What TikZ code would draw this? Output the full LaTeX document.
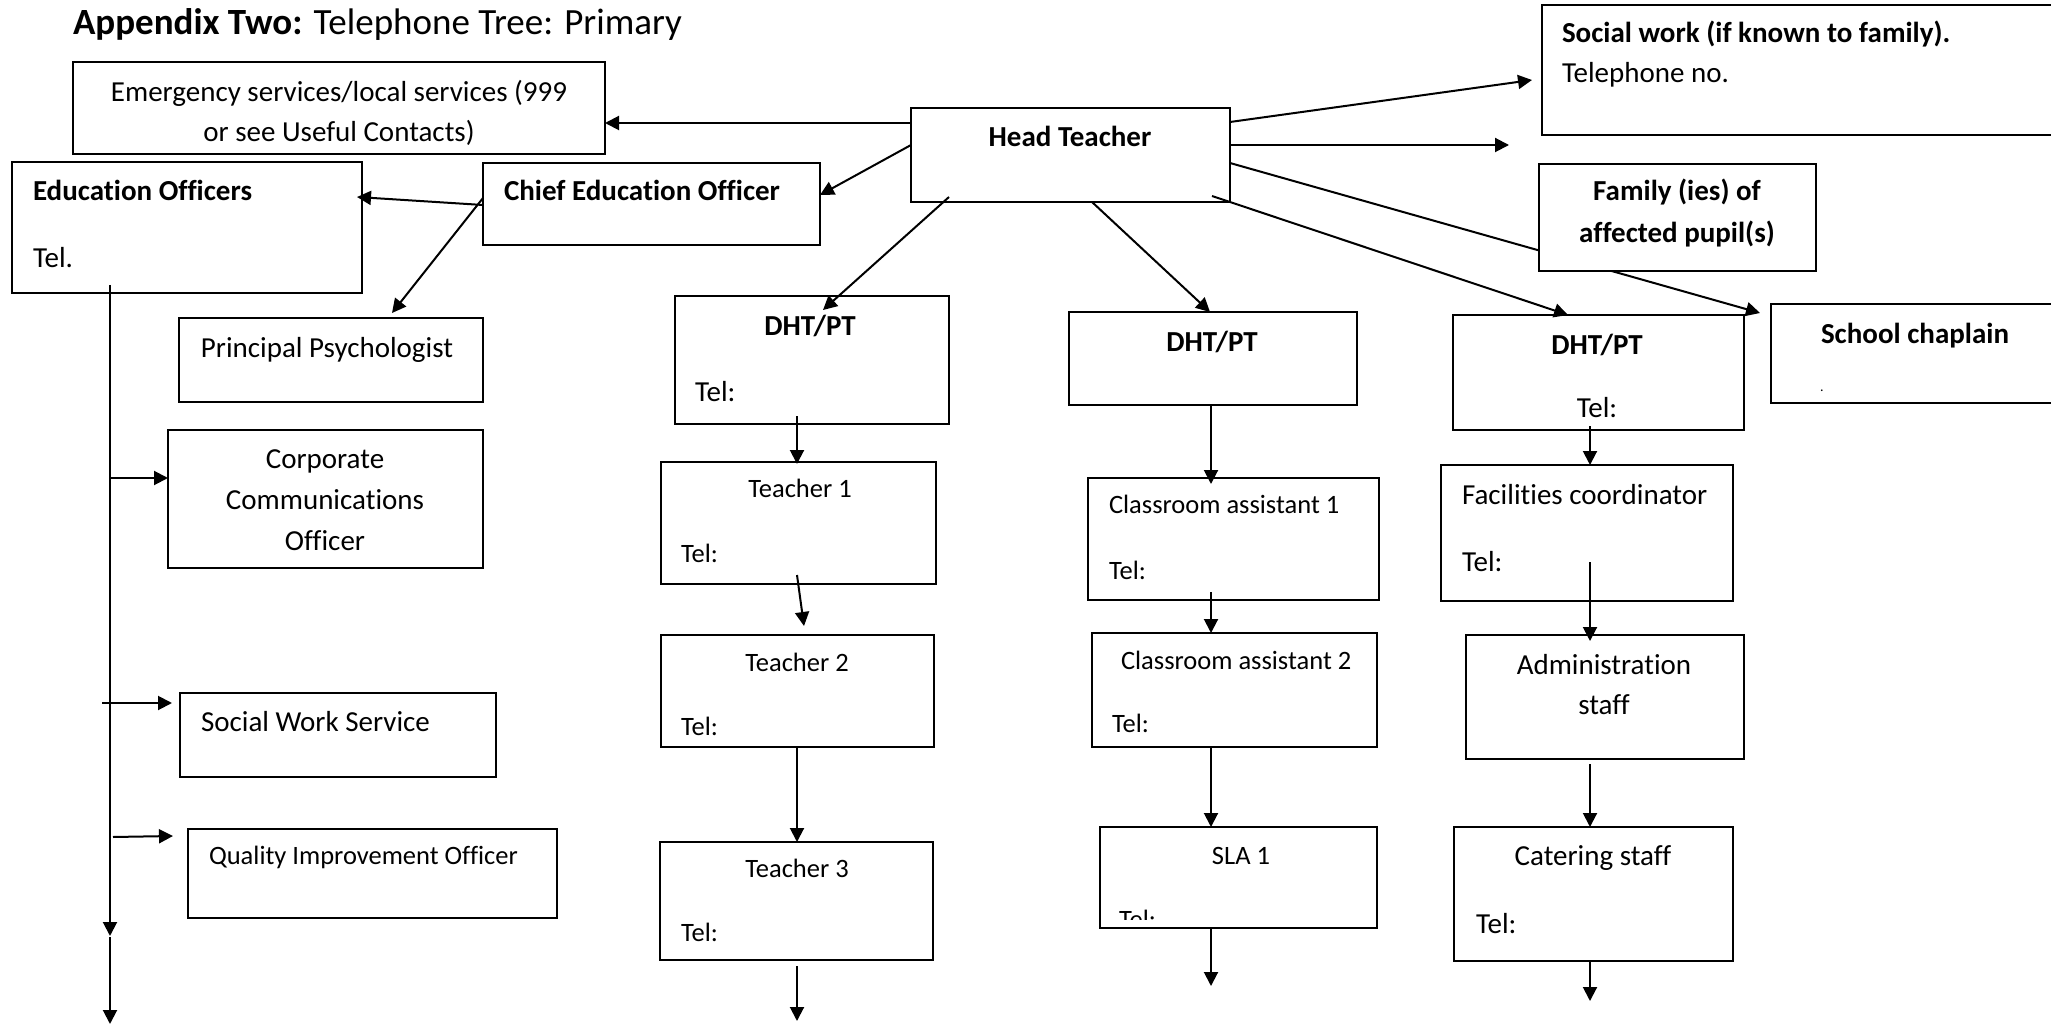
\documentclass[tikz,border=0pt]{standalone}
\usepackage{fontspec}
\setmainfont{Carlito}[Ligatures=NoCommon]
\usetikzlibrary{arrows.meta,calc}
\begin{document}
\begin{tikzpicture}[x=1pt,y=-1pt,
  bx/.style={draw, line width=2.2pt, fill=white, inner sep=0pt, outer sep=0pt, anchor=north west},
  arr/.style={line width=2pt, -{Triangle[length=14pt,width=14pt]}},
  tx/.style={inner sep=0pt, outer sep=0pt, font=\fontsize{29}{35}\selectfont},
  sm/.style={inner sep=0pt, outer sep=0pt, font=\fontsize{26.5}{32}\selectfont},
  bt/.style={tx, font=\fontsize{29}{35}\selectfont\bfseries},
]
\newcommand\mybox[5]{\node[bx, minimum width={#4-#2}, minimum height={#5-#3}] (#1) at (#2,#3) {};}
\fill[white] (0,0) rectangle (2051,1024);
\useasboundingbox (0,0) rectangle (2051,1024);

% title
\node[tx, anchor=base west, font=\fontsize{37}{42}\selectfont] (title) at (73,35) {\textbf{Appendix Two:} Telephone Tree: Primary};

% boxes
\mybox{em}{73}{62}{605}{154}
\mybox{ht}{911}{108}{1230}{202}
\mybox{eo}{12}{162}{362}{293}
\mybox{ceo}{483}{163}{820}{245}
\mybox{pp}{179}{318}{483}{402}
\mybox{d1}{675}{296}{949}{424}
\mybox{sw}{1542}{5}{2070}{135}
\mybox{d2}{1069}{312}{1357}{405}
\mybox{d3}{1453}{315}{1744}{430}
\mybox{sc}{1771}{304}{2070}{403}
\mybox{cco}{168}{430}{483}{568}
\mybox{sws}{180}{693}{496}{777}
\mybox{qio}{188}{829}{557}{918}
\mybox{t1}{661}{462}{936}{584}
\mybox{t2}{661}{635}{934}{747}
\mybox{t3}{660}{842}{933}{960}
\mybox{ca1}{1088}{478}{1379}{600}
\mybox{ca2}{1092}{633}{1377}{747}
\mybox{sla}{1100}{827}{1377}{928}
\mybox{fc}{1441}{465}{1733}{601}
\mybox{adm}{1466}{635}{1744}{759}
\mybox{cat}{1454}{827}{1733}{961}

% connectors from Head Teacher
\draw[arr] (ht.west |- 0,123) -- (em.east |- 0,123);
\draw[arr] (ht.west |- 0,145) -- (ceo.east |- 0,195);
\draw[arr] ($(ht.south west)+(38,-5)$) -- ($(d1.north west)+(148,14)$);
\draw[arr] (ht.south -| 1092,0) -- (d2.north -| 1210,0);
\draw[arr] ($(ht.south east)+(-18,-6)$) -- (d3.north -| 1568,0);
\draw[arr] (ht.east |- 0,163) -- ($(sc.north west)+(-11,9)$);
\draw[arr] (ht.east |- 0,122) -- ($(sw.west |- 0,80)+(-10,0)$);
\coordinate (htfree) at (1509,145);
\draw[arr] (ht.east |- 0,145) -- (htfree);

% family box drawn over the chaplain connector
\mybox{fam}{1539}{164}{1816}{271}

% chief education officer
\draw[arr] (ceo.west |- 0,205) -- ($(eo.east |- 0,197)+(-5,0)$);
\draw[arr] (ceo.west |- 0,198) -- ($(pp.north -| 392,0)+(0,-5)$);

% education officers branch
\coordinate (eoa) at (110,936);
\coordinate (eob) at (110,1024);
\draw[arr] ($(eo.south west)+(98,-8)$) -- (eoa);
\draw[arr] ($(eoa)+(0,1)$) -- (eob);
\draw[arr] (eoa |- 0,478) -- (cco.west |- 0,478);
\draw[arr] (102,703) -- ($(sws.west |- 0,703)+(-8,0)$);
\draw[arr] (113,837) -- ($(qio.west |- 0,836)+(-15,0)$);

% teacher column
\draw[arr] ($(d1.south -| 797,0)+(0,-8)$) -- ($(t1.north -| 797,0)+(0,2)$);
\draw[arr] ($(t1.south -| 797,0)+(0,-9)$) -- ($(t2.north -| 804,0)+(0,-9)$);
\draw[arr] (t2.south -| 797,0) -- (t3.north -| 797,0);
\coordinate (t3free) at (797,1021);
\draw[arr] ($(t3.south -| 797,0)+(0,6)$) -- (t3free);

% classroom column
\draw[arr] (d2.south -| 1211,0) -- ($(ca1.north -| 1211,0)+(0,6)$);
\draw[arr] ($(ca1.south -| 1211,0)+(0,-8)$) -- (ca2.north -| 1211,0);
\draw[arr] (ca2.south -| 1211,0) -- (sla.north -| 1211,0);
\coordinate (slafree) at (1211,986);
\draw[arr] (sla.south -| 1211,0) -- (slafree);

% facilities column
\draw[arr] ($(d3.south -| 1590,0)+(0,-4)$) -- (fc.north -| 1590,0);
\draw[arr] ($(fc.south -| 1590,0)+(0,-39)$) -- ($(adm.north -| 1590,0)+(0,6)$);
\draw[arr] ($(adm.south -| 1590,0)+(0,5)$) -- (cat.north -| 1590,0);
\coordinate (catfree) at (1590,1001);
\draw[arr] ($(cat.south -| 1590,0)+(0,1)$) -- (catfree);

% texts
\node[tx, anchor=base] (emA) at (339,102) {Emergency services/local services (999};
\node[tx, anchor=base] (emB) at (339,142) {or see Useful Contacts)};
\node[bt, anchor=base] (htT) at (1070,147) {Head Teacher};
\node[bt, anchor=base west] (eoT) at (33,201) {Education Officers};
\node[tx, anchor=base west] (eoTel) at (33,268) {Tel.};
\node[bt, anchor=base west] (ceoT) at (504,201) {Chief Education Officer};
\node[tx, anchor=base] (ppT) at (327,357) {Principal Psychologist};
\node[bt, anchor=base] (d1T) at (810,335) {DHT/PT};
\node[tx, anchor=base west] (d1Tel) at (695,401) {Tel:};
\node[bt, anchor=base west] (swT) at (1562,43) {Social work (if known to family).};
\node[tx, anchor=base west] (swTel) at (1562,83) {Telephone no.};
\node[bt, anchor=base] (famA) at (1677,201) {Family (ies) of};
\node[bt, anchor=base] (famB) at (1677,243) {affected pupil(s)};
\node[bt, anchor=base] (d2T) at (1212,352) {DHT/PT};
\node[bt, anchor=base] (d3T) at (1597,355) {DHT/PT};
\node[tx, anchor=base] (d3Tel) at (1597,417) {Tel:};
\node[bt, anchor=base west] (scT) at (1821,343) {School chaplain};
\node[inner sep=0pt, anchor=base west, font=\fontsize{14}{16}\selectfont] (scDot) at (1820,391) {.};
\node[tx, anchor=base] (ccoA) at (325,468) {Corporate};
\node[tx, anchor=base] (ccoB) at (325,509) {Communications};
\node[tx, anchor=base] (ccoC) at (325,550) {Officer};
\node[tx, anchor=base west] (swsT) at (201,731) {Social Work Service};
\node[sm, anchor=base west] (qioT) at (209,864) {Quality Improvement Officer};
\node[sm, anchor=base] (t1T) at (800,497) {Teacher 1};
\node[sm, anchor=base west] (t1Tel) at (681,562) {Tel:};
\node[sm, anchor=base] (t2T) at (797,671) {Teacher 2};
\node[sm, anchor=base west] (t2Tel) at (681,735) {Tel:};
\node[sm, anchor=base] (t3T) at (797,877) {Teacher 3};
\node[sm, anchor=base west] (t3Tel) at (681,941) {Tel:};
\node[sm, anchor=base west] (ca1T) at (1109,513) {Classroom assistant 1};
\node[sm, anchor=base west] (ca1Tel) at (1109,579) {Tel:};
\node[sm, anchor=base west] (ca2T) at (1121,669) {Classroom assistant 2};
\node[sm, anchor=base west] (ca2Tel) at (1112,732) {Tel:};
\node[sm, anchor=base] (slaT) at (1241,864) {SLA 1};
\begin{scope}
\clip (1102,829) rectangle (1375,919);
\node[sm, anchor=base west] (slaTel) at (1119,928) {Tel:};
\end{scope}
\node[tx, anchor=base west] (fcT) at (1462,504) {Facilities coordinator};
\node[tx, anchor=base west] (fcTel) at (1462,571) {Tel:};
\node[tx, anchor=base] (admA) at (1604,674) {Administration};
\node[tx, anchor=base] (admB) at (1604,714) {staff};
\node[tx, anchor=base] (catT) at (1593,865) {Catering staff};
\node[tx, anchor=base west] (catTel) at (1476,933) {Tel:};
\end{tikzpicture}
\end{document}
